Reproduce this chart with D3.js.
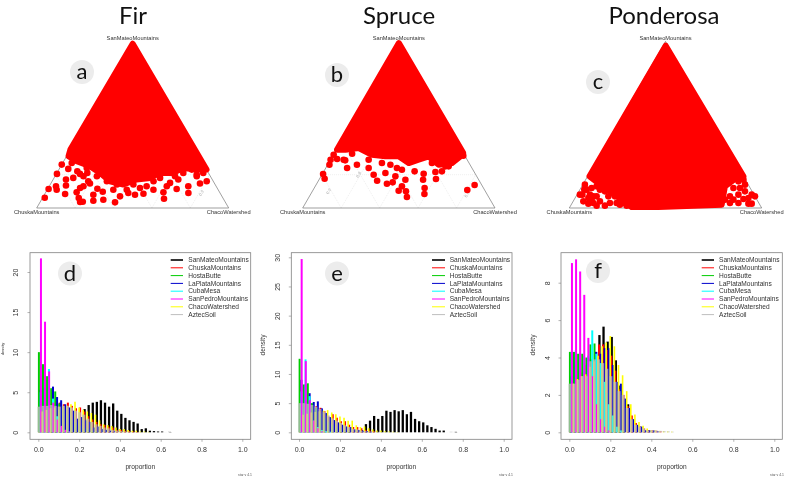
<!DOCTYPE html>
<html><head><meta charset="utf-8">
<script src="https://cdn.jsdelivr.net/npm/d3@7"></script>
<style>
html,body{margin:0;padding:0;background:#fff}
svg{display:block;filter:blur(.3px)}
text{font-family:"Liberation Sans",Arial,sans-serif}
</style></head><body>
<svg id="c" width="787" height="480"></svg>
<script>
const seriesNames=["SanMateoMountains","ChuskaMountains","HostaButte","LaPlataMountains","CubaMesa","SanPedroMountains","ChacoWatershed","AztecSoil"];
const seriesColors=["#000000","#ff0000","#00cd00","#0000cd","#00ffff","#ff00ff","#ffff00","#bebebe"];
const binShift=[0.007,0.005,0.003,0.012,0.012,0.013,0.02,0.003];
const binWidth=0.02;
const xTicks=[0,0.2,0.4,0.6,0.8,1];
const panelTitles=["Fir","Spruce","Ponderosa"];
const ternaryLetters=["a","b","c"];
const histLetters=["d","e","f"];

// histogram densities per series, bins of 0.02 from 0
const firHist=[
[0,0,0.02,0.05,0.1,0.2,0.3,0.5,0.8,1.2,1.8,2.9,3.4,3.7,3.8,4.0,3.7,3.2,3.6,2.7,2.3,1.8,1.5,1.3,1.1,0.4,0.5,0.2,0.15,0.1,0.1,0,0.03],
[3.2,3.3,3.4,3.5,3.6,3.7,3.5,3.7,3.3,3.0,3.1,2.6,2.0,1.6,1.3,1.0,0.9,0.7,0.6,0.3,0.3,0.2,0.15,0.1,0.05],
[10,8.5,7,5.5,5.1,3.6,2.9,2.2,1.6,1.2,0.8,0.5,0.4,0.2,0.1],
[5.3,5.5,5.6,5.7,4.4,4,3.5,3.1,2.7,1.7,1.9,1.5,1.3,0.6,0.7,0.4,0.3,0.2,0.1],
[5,6.5,7.9,4.2,2,0.7,0.3,0.1],
[21.7,13.8,7.6,3.7,1.6,0.8,0.3,0.1],
[2.6,2.8,3,3.1,3.2,3.3,3.3,3.5,3.8,3.1,2.8,2.6,2.4,2.2,1.5,1,0.9,0.8,0.6,0.4,0.4,0.3,0.2,0.2,0.1,0.1,0.05],
[3.2,3.3,3.3,3.4,3.3,3.2,3.3,3.3,3.1,2.7,2.5,2.2,1.7,1.3,1,0.8,0.6,0.5,0.3,0.2,0.15,0.1,0.08,0.05,0.04,0.03,0.02,0.02,0.02,0.01,0.01,0.01,0.1]];
const spruceHist=[
[0,0,0,0,0,0,0,0,0,0.02,0.03,0.05,0.05,0.1,0.2,0.4,1.4,2.0,2.8,2.3,2.8,3.7,3.5,3.8,3.6,3.8,3.1,3.5,2.3,1.9,1.7,1.2,0.9,0.6,0.3,0.3,0,0,0.07],
[5,5,5,4.8,4.5,4.2,3.6,2.7,3.1,2.5,1.9,1.9,1.3,0.9,0.9,0.7,0.4,0.3,0.2],
[12.6,8.2,8.4,5,4.2,3.2,2.5,1.8,1.3,0.8,0.6,0.4,0.2],
[9,8.2,6.7,5.2,5.3,4.1,3.3,2.6,2.1,1.7,1.3,1,0.9,0.5,0.4,0.3,0.2,0.1],
[7,12.5,6.2,2,0.9,0.4,0.2,0.1],
[29.7,12.2,5.5,2,0.7,0.2],
[3,3.2,3.4,3.5,3.6,3.7,3.8,3.4,3.1,2.7,2.5,2,2,1.2,0.9,1,0.7,0.5,0.3,0.3,0.2,0.15,0.1,0.05],
[5,5,4.9,4.7,4.4,4,3.5,2.9,2.4,2,1.6,1.2,0.9,0.6,0.5,0.3,0.2,0.15,0.1,0.08,0.05,0.04,0.03,0.02,0.02,0.01,0.01,0.01,0.01,0.01,0.01,0.01,0.01,0.01,0.01,0.01,0.01,0.1,0.1]];
const ponderosaHist=[
[0.8,1.2,1.7,2.3,3,3.7,4.3,5.2,5.65,4.85,5.1,3.85,2.5,1.8,1.5,0.7,0.35,0.3,0.1,0.1,0.05],
[2.6,2.7,2.9,3.2,3.6,3.9,4.2,4.7,4.7,4.4,4.1,3.3,2.3,2,1.4,0.9,0.5,0.3,0.2,0.1,0.1,0.08,0.05],
[4.3,4.3,4.2,4.2,4,4.7,4.75,3.8,3,2.1,1.3,0.7,0.3,0.1],
[3,3.8,3.7,3.7,4,3.8,4.3,4.2,4.5,4.5,3.6,2.7,2.6,1.8,1.3,0.7,0.4,0.3,0.1,0.1,0.1,0.05],
[4.3,4.4,4.2,4.1,4.1,5.45,4.2,3.7,2.7,1.5,0.9,0.3,0.1],
[9.05,9.25,8.6,7.35,5.05,3,1.5,0.7,0.3,0.1],
[2.6,2.85,3,3.1,3.5,3.8,4.1,4.6,4.8,5.15,4.6,3.6,3.05,2.2,1.5,0.95,0.55,0.35,0.2,0.1,0.1,0.05,0.05,0.04,0.03],
[2.6,2.6,2.8,3,3,3.8,3.9,3.9,3.7,3.4,3,2.7,2.2,2,1.3,0.7,0.4,0.3,0.2,0.1,0.1,0.1,0.08,0.06,0.05,0.03]];

// ternary samples as [SanMateo share, ChacoWatershed share]; Chuska is the rest
const firBody=[[0.988,0.006],[0.231,0.769],[0.231,0.718],[0.241,0.643],[0.211,0.606],[0.211,0.537],[0.181,0.5],[0.171,0.435],[0.141,0.381],[0.161,0.301],[0.211,0.225],[0.251,0.152],[0.281,0.068],[0.311,0.01],[0.351,0]];
const firPoints=[[0.062,0.011],[0.114,0.005],[0.131,0.035],[0.11,0.049],[0.205,0.003],[0.261,0],[0.171,0.067],[0.135,0.085],[0.084,0.106],[0.235,0.047],[0.181,0.1],[0.221,0.101],[0.205,0.123],[0.06,0.189],[0.036,0.208],[0.038,0.221],[0.094,0.161],[0.12,0.166],[0.131,0.178],[0.161,0.188],[0.147,0.204],[0.08,0.255],[0.044,0.273],[0.116,0.258],[0.098,0.295],[0.05,0.322],[0.034,0.391],[0.07,0.399],[0.09,0.432],[0.08,0.472],[0.086,0.513],[0.11,0.553],[0.094,0.613],[0.056,0.635],[0.131,0.612],[0.114,0.672],[0.171,0.652],[0.131,0.724],[0.09,0.745],[0.147,0.777],[0.161,0.805],[0.201,0.733],[0.211,0.762],[0.151,0.619],[0.12,0.478],[0.11,0.344],[0.191,0.148],[0.211,0.158],[0.191,0.738],[0.231,0.692],[0.211,0.658],[0.191,0.625],[0.181,0.552],[0.161,0.528],[0.131,0.507],[0.141,0.433],[0.11,0.414],[0.141,0.347],[0.161,0.285],[0.191,0.218],[0.241,0.14],[0.271,0.047]];
const spruceBody=[[0.99,0.005],[0.33,0.67],[0.31,0.665],[0.27,0.641],[0.26,0.577],[0.31,0.5],[0.29,0.458],[0.27,0.416],[0.31,0.344],[0.31,0.275],[0.32,0.2],[0.36,0.111],[0.35,0.047],[0.35,0.003]];
const sprucePoints=[[0.204,0.004],[0.176,0.026],[0.26,0.009],[0.32,0.001],[0.286,0.078],[0.24,0.111],[0.26,0.152],[0.326,0.094],[0.24,0.223],[0.2,0.269],[0.164,0.305],[0.146,0.365],[0.154,0.391],[0.21,0.325],[0.19,0.387],[0.104,0.447],[0.13,0.451],[0.1,0.487],[0.066,0.509],[0.17,0.449],[0.22,0.472],[0.206,0.526],[0.12,0.574],[0.084,0.591],[0.17,0.541],[0.174,0.606],[0.216,0.582],[0.22,0.614],[0.25,0.634],[0.108,0.802],[0.138,0.825],[0.314,0.678],[0.29,0],[0.294,0.032],[0.29,0.068],[0.29,0.198],[0.27,0.277],[0.26,0.326],[0.24,0.37],[0.23,0.401],[0.27,0.537],[0.25,0.617]];
const ponderosaBody=[[0.974,0.014],[0.19,0.81],[0.19,0.784],[0.13,0.744],[0.02,0.782],[0.006,0.46],[0.006,0.321],[0.05,0.247],[0.12,0.125],[0.19,0.01]];
const ponderosaPoints=[[0.08,0.015],[0.11,0.023],[0.04,0.053],[0.026,0.086],[0.03,0.11],[0.07,0.107],[0.08,0.067],[0.12,0.056],[0.11,0.104],[0.014,0.178],[0.03,0.196],[0.1,0.174],[0.02,0.253],[0.07,0.202],[0.03,0.266],[0.04,0.139],[0.14,0.011],[0.07,0.93],[0.026,0.935],[0.026,0.918],[0.1,0.863],[0.08,0.839],[0.054,0.878],[0.12,0.793],[0.15,0.752],[0.07,0.8],[0.03,0.864],[0.17,0.82],[0.03,0.82],[0.14,0.843],[0.08,0.028],[0.06,0.069],[0.07,0.09],[0.11,0.035],[0.13,0.077],[0.1,0.135],[0.07,0.168],[0.014,0.135],[0.05,0.091],[0.13,0.112],[0.03,0.231],[0.014,0.291],[0.01,0.345],[0.06,0.259],[0.11,0.182],[0.05,0.784],[0.1,0.742],[0.08,0.908],[0.06,0.901],[0.16,0.799],[0.12,0.827],[0.05,0.828]];
const gridLevels=[0.2,0.4,0.6,0.8];
const vertexNames=["SanMateoMountains","ChuskaMountains","ChacoWatershed"];
// faint scale labels left visible beside the cloud: [top share, right share, label]
const firScale=[[0.09,0.814,"0.9"]];
const spruceScale=[[0.2,0.191,"0.8"],[0.1,0.085,"0.9"],[0.08,0.814,"0.9"]];
const ponderosaScale=[];

const svg=d3.select("#c");
const titleFont='Lato,"Open Sans",sans-serif';

const ternaries=[
 {left:36.7,right:228.7,base:208,body:firBody,pts:firPoints,scale:firScale,title:133,letter:[82,72]},
 {left:302.7,right:495,base:208,body:spruceBody,pts:sprucePoints,scale:spruceScale,title:399,letter:[337,75]},
 {left:569.3,right:761.7,base:208,body:ponderosaBody,pts:ponderosaPoints,scale:ponderosaScale,title:664,letter:[598,82]}];

ternaries.forEach((t,i)=>{
  const h=(t.right-t.left)*Math.sqrt(3)/2;
  const xs=d3.scaleLinear().domain([0,1]).range([t.left,t.right]);
  const ys=d3.scaleLinear().domain([0,1]).range([t.base,t.base-h]);
  const px=d=>xs(d[1]+d[0]/2), py=d=>ys(d[0]);
  const g=svg.append("g");
  gridLevels.forEach(l=>{
    const segs=[[[l,0],[l,1-l]],[[0,l],[1-l,l]],[[0,1-l],[1-l,0]]];
    segs.forEach(s=>g.append("line").attr("x1",px(s[0])).attr("y1",py(s[0])).attr("x2",px(s[1])).attr("y2",py(s[1]))
      .attr("stroke","#ddd").attr("stroke-width",.5).attr("stroke-dasharray","1 1"));
  });
  t.scale.forEach(s=>g.append("text").attr("transform",`translate(${px(s)},${py(s)}) rotate(-60)`).attr("text-anchor","middle")
     .attr("dy","0.32em").attr("font-size",4.2).attr("fill","#aaa").text(s[2]));
  g.append("path").attr("d",d3.line().x(px).y(py).curve(d3.curveLinearClosed)([[1,0],[0,0],[0,1]]))
    .attr("fill","none").attr("stroke","#777").attr("stroke-width",.7);
  g.append("path").attr("d",d3.line().x(px).y(py).curve(d3.curveLinearClosed)(t.body))
    .attr("fill","#f00").attr("stroke","#f00").attr("stroke-width",6).attr("stroke-linejoin","round");
  g.selectAll("circle").data(t.pts).join("circle").attr("cx",px).attr("cy",py).attr("r",3.3).attr("fill","#f00");
  const lab=[[ (t.left+t.right)/2,t.base-h-3.5,vertexNames[0]],[t.left,t.base+4,vertexNames[1]],[t.right,t.base+4,vertexNames[2]]];
  lab.forEach(a=>g.append("text").attr("x",Math.min(a[0],787-22)).attr("y",a[1]).attr("dy","0.32em").attr("text-anchor","middle")
     .attr("font-size",5.7).attr("fill","#333").text(a[2]));
  svg.append("text").attr("x",t.title).attr("y",24).attr("text-anchor","middle").style("font-family",titleFont)
     .attr("font-size",24).attr("fill","#111").text(panelTitles[i]);
  svg.append("circle").attr("cx",t.letter[0]).attr("cy",t.letter[1]).attr("r",12).attr("fill","#ececec");
  svg.append("text").attr("x",t.letter[0]).attr("y",t.letter[1]).attr("dy","0.33em").attr("text-anchor","middle").style("font-family",titleFont)
     .attr("font-size",22).attr("fill","#111").text(ternaryLetters[i]);
});

const hists=[
 {box:[30,250.7],x0:38.3,x1:242.3,yTop:272,yTopVal:20,yTicks:[0,5,10,15,20],data:firHist,leg:[170.7,183,188.3],letter:[70,273.5],dens:[4,349,4],tickX:18,foot:245},
 {box:[291.3,512],x0:299,x1:503.7,yTop:257.3,yTopVal:30,yTicks:[0,5,10,15,20,25,30],data:spruceHist,leg:[432,445,449.7],letter:[337,273.5],dens:[265,345,6.6],tickX:279.5,foot:506},
 {box:[561,782.3],x0:569.3,x1:774.3,yTop:282.7,yTopVal:8,yTicks:[0,2,4,6,8],data:ponderosaHist,leg:[701.7,714,719],letter:[598,271],dens:[535,345,6.6],tickX:550,foot:777}];
const boxTop=252.7,boxBot=439.3,yZero=432.3;

hists.forEach((p,i)=>{
  const x=d3.scaleLinear().domain([0,1]).range([p.x0,p.x1]);
  const y=d3.scaleLinear().domain([0,p.yTopVal]).range([yZero,p.yTop]);
  const g=svg.append("g");
  p.data.forEach((vals,s)=>{
    g.append("g").selectAll("line").data(vals.map((v,k)=>({v,k})).filter(d=>d.v>0)).join("line")
     .attr("x1",d=>x(d.k*binWidth+binShift[s])).attr("x2",d=>x(d.k*binWidth+binShift[s]))
     .attr("y1",yZero).attr("y2",d=>y(d.v))
     .attr("stroke",seriesColors[s]).attr("stroke-width",s==7?3:(s==0?2.3:(s==6?1.6:2)))
     .attr("opacity",s==7?0.75:1);
  });
  g.append("rect").attr("x",p.box[0]).attr("y",boxTop).attr("width",p.box[1]-p.box[0]).attr("height",boxBot-boxTop)
   .attr("fill","none").attr("stroke","#808080").attr("stroke-width",.8);
  const ax=svg.append("g").attr("transform",`translate(0,${boxBot})`)
    .call(d3.axisBottom(x).tickValues(xTicks).tickFormat(d3.format(".1f")).tickSize(2.5).tickPadding(5));
  const ay=svg.append("g").attr("transform",`translate(${p.box[0]},0)`)
    .call(d3.axisLeft(y).tickValues(p.yTicks).tickSize(2.5).tickPadding(0));
  [ax,ay].forEach(a=>{a.select(".domain").remove();a.selectAll("line").attr("stroke","#808080").attr("stroke-width",.6);
    a.selectAll("text").attr("font-size",7).attr("fill","#333");});
  ay.selectAll("text").attr("text-anchor","middle").attr("dy",0).attr("x",0).attr("y",0)
    .attr("transform",`translate(${p.tickX-p.box[0]},0) rotate(-90)`);
  svg.append("text").attr("x",(p.x0+p.x1)/2).attr("y",469).attr("text-anchor","middle").attr("font-size",6.6).attr("fill","#333").text("proportion");
  svg.append("text").attr("transform",`translate(${p.dens[0]},${p.dens[1]}) rotate(-90)`).attr("text-anchor","middle").attr("font-size",p.dens[2]).attr("fill","#333").text("density");
  svg.append("text").attr("x",p.foot).attr("y",476).attr("text-anchor","middle").attr("font-size",3.4).attr("fill","#555").text("star v 4.1");
  seriesNames.forEach((n,s)=>{
    const ly=260+s*7.8;
    svg.append("line").attr("x1",p.leg[0]).attr("x2",p.leg[1]).attr("y1",ly).attr("y2",ly)
       .attr("stroke",seriesColors[s]).attr("stroke-width",s==0?1.6:1);
    svg.append("text").attr("x",p.leg[2]).attr("y",ly).attr("dy","0.34em").attr("font-size",6.6).attr("fill","#333").text(n);
  });
  svg.append("circle").attr("cx",p.letter[0]).attr("cy",p.letter[1]).attr("r",12).attr("fill","#ececec");
  svg.append("text").attr("x",p.letter[0]).attr("y",p.letter[1]).attr("dy","0.33em").attr("text-anchor","middle").style("font-family",titleFont)
     .attr("font-size",22).attr("fill","#111").text(histLetters[i]);
});
</script></body></html>
